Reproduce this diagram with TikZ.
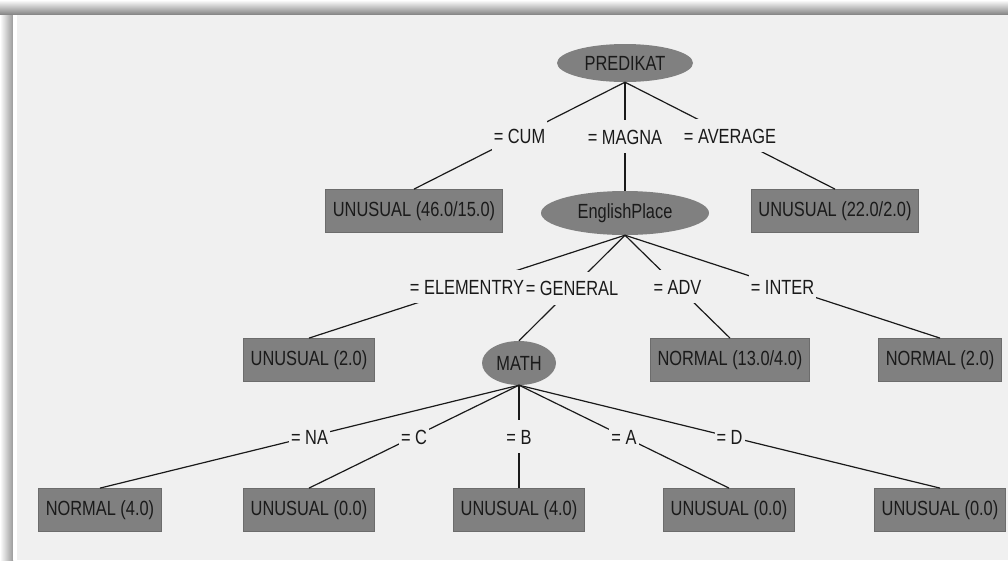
\documentclass[tikz,border=0pt]{standalone}
\usepackage{fontspec}
\newfontfamily\wekafont{Liberation Sans}[FakeStretch=0.80]
\usetikzlibrary{shapes.geometric}
\definecolor{panelbg}{HTML}{F0F0F0}
\definecolor{nodegray}{HTML}{808080}
\definecolor{nodeedge}{HTML}{6C6C6C}
\definecolor{inkgray}{HTML}{1A1A1A}

\begin{document}
\begin{tikzpicture}[x=1pt, y=-1pt,
  every node/.style={font=\wekafont\fontsize{20.5}{24}\selectfont, text=inkgray},
  attr/.style={ellipse, fill=nodegray, inner sep=0pt},
  leaf/.style={rectangle, fill=nodegray, draw=nodeedge, line width=0.8pt, minimum height=43pt, inner xsep=7pt},
  branch/.style={fill=panelbg, inner xsep=2pt, inner ysep=9pt, text height=15pt, text depth=0pt},
  link/.style={draw=inkgray, line width=1.2pt}]
  \useasboundingbox (0,0) rectangle (1008,560);

  % window frame and shadow
  \shade[top color=white, bottom color=black!50] (0,0) rectangle (1008,15);
  \shade[left color=white, right color=black!40] (0,15) rectangle (13,560);
  \fill[white] (13,15) rectangle (17,560);
  \fill[panelbg] (17,15) rectangle (1008,560);

  % attribute nodes
  \node[attr, minimum width=136pt, minimum height=38pt] (predikat) at (625,63) {PREDIKAT};
  \node[attr, minimum width=168pt, minimum height=44pt] (englishplace) at (625,213) {EnglishPlace};
  \node[attr, minimum width=74pt, minimum height=44pt] (math) at (519,363) {MATH};

  % leaves
  \node[leaf] (leafcum) at (414,211) {UNUSUAL (46.0/15.0)};
  \node[leaf] (leafaverage) at (835,211) {UNUSUAL (22.0/2.0)};
  \node[leaf] (leafelementry) at (309,360) {UNUSUAL (2.0)};
  \node[leaf] (leafadv) at (730,360) {NORMAL (13.0/4.0)};
  \node[leaf] (leafinter) at (940,360) {NORMAL (2.0)};
  \node[leaf] (leafna) at (100,510) {NORMAL (4.0)};
  \node[leaf] (leafc) at (309,510) {UNUSUAL (0.0)};
  \node[leaf] (leafb) at (519,510) {UNUSUAL (4.0)};
  \node[leaf] (leafa) at (729,510) {UNUSUAL (0.0)};
  \node[leaf] (leafd) at (940,510) {UNUSUAL (0.0)};

  % branches of PREDIKAT
  \draw[link] (predikat.south) -- node[branch] {= CUM} (leafcum.north);
  \draw[link] (predikat.south) -- node[branch] {= MAGNA} (englishplace.north);
  \draw[link] (predikat.south) -- node[branch] {= AVERAGE} (leafaverage.north);

  % branches of EnglishPlace
  \draw[link] (englishplace.south) -- node[branch] {= ELEMENTRY} (leafelementry.north);
  \draw[link] (englishplace.south) -- node[branch] {= GENERAL} (math.north);
  \draw[link] (englishplace.south) -- node[branch] {= ADV} (leafadv.north);
  \draw[link] (englishplace.south) -- node[branch] {= INTER} (leafinter.north);

  % branches of MATH
  \draw[link] (math.south) -- node[branch] {= NA} (leafna.north);
  \draw[link] (math.south) -- node[branch] {= C} (leafc.north);
  \draw[link] (math.south) -- node[branch] {= B} (leafb.north);
  \draw[link] (math.south) -- node[branch] {= A} (leafa.north);
  \draw[link] (math.south) -- node[branch] {= D} (leafd.north);
\end{tikzpicture}
\end{document}
